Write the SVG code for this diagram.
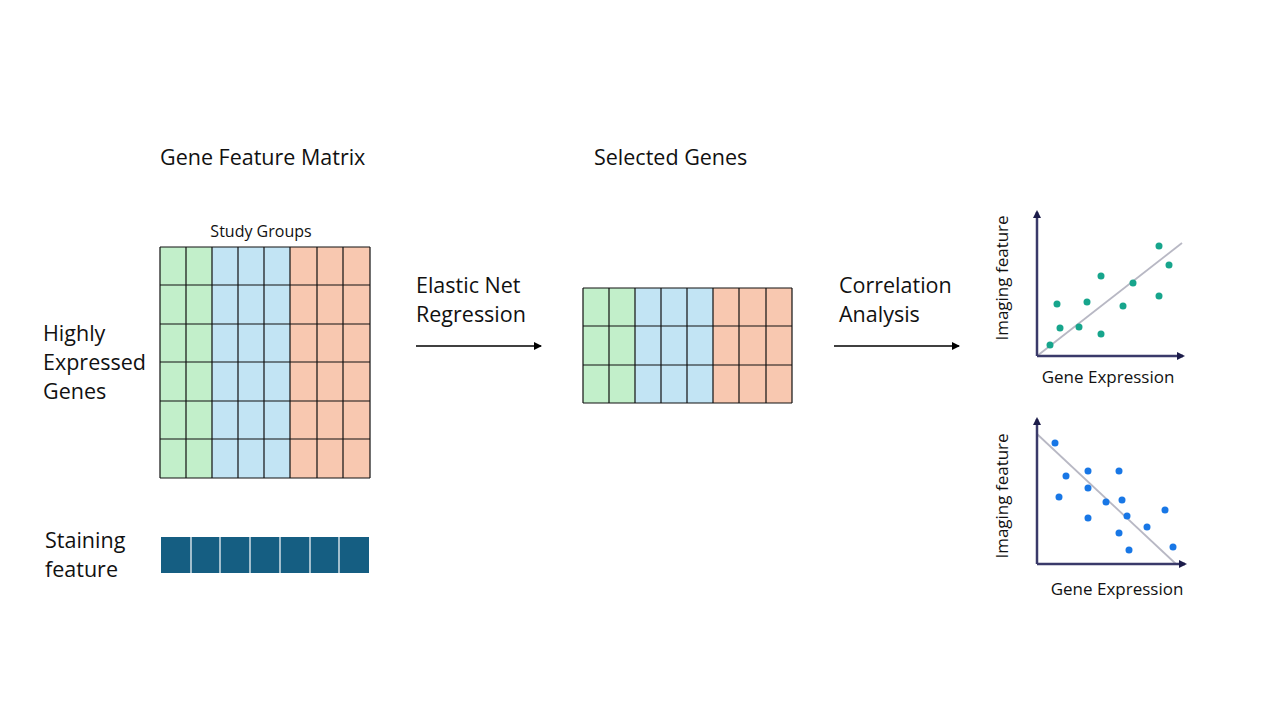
<svg xmlns="http://www.w3.org/2000/svg" width="1280" height="720" viewBox="0 0 1280 720">
<style>
text{font-family:"Open Sans","Liberation Sans",sans-serif;fill:#111}
.t{font-size:21.5px}
.s{font-size:17px}
.g{fill:#c2efca}.b{fill:#c2e4f4}.o{fill:#f8c8b0}
.ln{stroke:#111;stroke-width:1.2}
.ax{stroke:#3a3a6a;stroke-width:2.5}
.fit{stroke:#b8b8c4;stroke-width:1.8}
.p1{fill:#17a58c}.p2{fill:#1877e6}
</style>
<defs>
<marker id="ar" markerWidth="8" markerHeight="8" refX="7" refY="4" orient="auto" markerUnits="userSpaceOnUse"><path d="M0,0 L8,4 L0,8z" fill="#000"/></marker>
<marker id="ax" markerWidth="8" markerHeight="8" refX="6" refY="4" orient="auto" markerUnits="userSpaceOnUse"><path d="M0,0 L8,4 L0,8z" fill="#1c1c4a"/></marker>
</defs>
<rect width="1280" height="720" fill="#fff"/>
<text class="t" x="160" y="165">Gene Feature Matrix</text>
<text class="t" x="594" y="165">Selected Genes</text>
<g id="matrix">
<text x="261" y="237" class="s" font-size="16" text-anchor="middle" style="font-size:16px">Study Groups</text>
<rect class="g" x="160" y="247" width="52" height="231"/>
<rect class="b" x="212" y="247" width="78" height="231"/>
<rect class="o" x="290" y="247" width="80" height="231"/>
<path class="ln" d="M160,247V478M186,247V478M212,247V478M238,247V478M264,247V478M290,247V478M317,247V478M343,247V478M370,247V478M160,247H370M160,285H370M160,324H370M160,362H370M160,401H370M160,439H370M160,478H370"/>
</g>
<g id="label-genes"><text class="t" x="43" y="341">Highly</text><text class="t" x="43" y="370">Expressed</text><text class="t" x="43" y="399">Genes</text></g>
<g id="label-staining"><text class="t" x="45" y="548">Staining</text><text class="t" x="45" y="577">feature</text></g>
<g id="staining">
<rect x="161" y="537" width="208" height="36" fill="#155e82"/>
<path d="M191,537V573M220,537V573M250,537V573M280,537V573M310,537V573M339,537V573" stroke="#fff" stroke-width="1.2"/>
</g>
<g id="selected">
<rect class="g" x="583" y="288" width="52" height="115"/>
<rect class="b" x="635" y="288" width="78" height="115"/>
<rect class="o" x="713" y="288" width="79" height="115"/>
<path class="ln" d="M583,288V403M609,288V403M635,288V403M661,288V403M687,288V403M713,288V403M739,288V403M766,288V403M792,288V403M583,288H792M583,326H792M583,365H792M583,403H792"/>
</g>
<g id="label-enr"><text class="t" x="416" y="293">Elastic Net</text><text class="t" x="416" y="322">Regression</text></g>
<g id="label-corr"><text class="t" x="839" y="293">Correlation</text><text class="t" x="839" y="322">Analysis</text></g>
<g id="connectors">
<line x1="416" y1="346" x2="541" y2="346" stroke="#000" stroke-width="1.5" marker-end="url(#ar)"/>
<line x1="834" y1="346" x2="959" y2="346" stroke="#000" stroke-width="1.5" marker-end="url(#ar)"/>
</g>
<g id="plot1">
<line class="fit" x1="1037" y1="356" x2="1182" y2="243"/>
<line class="ax" x1="1037" y1="356" x2="1037" y2="212" marker-end="url(#ax)"/>
<line class="ax" x1="1037" y1="356" x2="1183" y2="356" marker-end="url(#ax)"/>
<g class="p1"><circle cx="1050" cy="345" r="3.5"/><circle cx="1057" cy="304" r="3.5"/><circle cx="1060" cy="328" r="3.5"/><circle cx="1079" cy="327" r="3.5"/><circle cx="1087" cy="302" r="3.5"/><circle cx="1101" cy="276" r="3.5"/><circle cx="1101" cy="334" r="3.5"/><circle cx="1123" cy="306" r="3.5"/><circle cx="1133" cy="283" r="3.5"/><circle cx="1159" cy="246" r="3.5"/><circle cx="1169" cy="265" r="3.5"/><circle cx="1159" cy="296" r="3.5"/></g>
<text class="s" x="1108" y="383" text-anchor="middle">Gene Expression</text>
<text class="s" transform="translate(1008,278) rotate(-90)" text-anchor="middle">Imaging feature</text>
</g>
<g id="plot2">
<line class="fit" x1="1037" y1="434" x2="1176" y2="564"/>
<line class="ax" x1="1037" y1="564" x2="1037" y2="419" marker-end="url(#ax)"/>
<line class="ax" x1="1037" y1="564" x2="1185" y2="564" marker-end="url(#ax)"/>
<g class="p2"><circle cx="1055" cy="443" r="3.5"/><circle cx="1066" cy="476" r="3.5"/><circle cx="1088" cy="471" r="3.5"/><circle cx="1119" cy="471" r="3.5"/><circle cx="1059" cy="497" r="3.5"/><circle cx="1088" cy="488" r="3.5"/><circle cx="1106" cy="502" r="3.5"/><circle cx="1122" cy="500" r="3.5"/><circle cx="1127" cy="516" r="3.5"/><circle cx="1088" cy="518" r="3.5"/><circle cx="1165" cy="510" r="3.5"/><circle cx="1147" cy="527" r="3.5"/><circle cx="1119" cy="533" r="3.5"/><circle cx="1129" cy="550" r="3.5"/><circle cx="1173" cy="547" r="3.5"/></g>
<text class="s" x="1117" y="595" text-anchor="middle">Gene Expression</text>
<text class="s" transform="translate(1008,496) rotate(-90)" text-anchor="middle">Imaging feature</text>
</g>
</svg>
